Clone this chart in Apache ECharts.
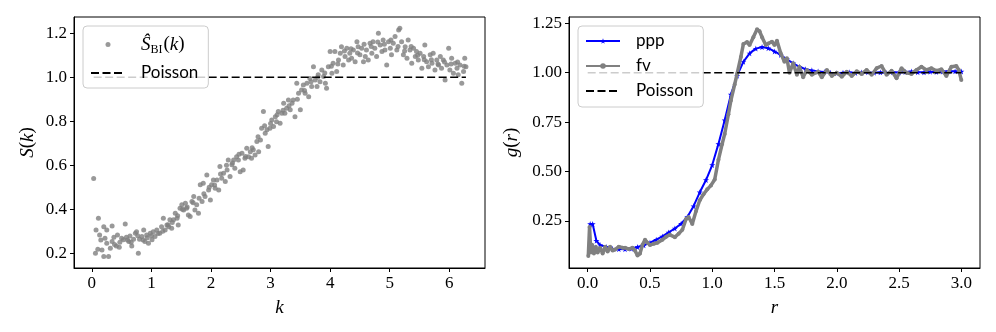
<!DOCTYPE html>
<html>
<head>
<meta charset="utf-8">
<script src="https://cdn.jsdelivr.net/npm/echarts@6/dist/echarts.min.js"></script>
<style>
html,body{margin:0;padding:0;background:#fff;}
#chart{width:996px;height:332px;}
</style>
</head>
<body>
<div id="chart"></div>
<script>
// ---------- data: left panel (structure factor) ----------
const kValues = [0.03,0.06,0.07,0.11,0.13,0.10,0.17,0.20,0.20,0.22,0.25,0.25,0.28,0.31,0.34,0.34,0.37,0.41,0.43,0.46,0.50,0.53,0.56,0.58,0.62,0.64,0.67,0.70,0.73,0.75,0.78,0.80,0.84,0.87,0.89,0.92,0.95,0.98,1.01,1.03,1.06,1.09,1.14,1.17,1.20,1.23,1.26,1.29,1.31,1.34,1.37,1.40,1.43,1.45,1.48,1.51,1.54,1.57,1.59,1.62,1.65,1.68,1.71,1.73,1.76,1.79,1.82,1.85,1.87,1.90,1.93,1.96,1.99,2.01,2.04,2.07,2.10,2.13,2.15,2.18,2.21,2.24,2.27,2.29,2.32,2.35,2.38,2.40,2.43,2.46,2.49,2.52,2.54,2.57,2.60,2.63,2.66,2.68,2.71,2.74,2.77,2.80,2.83,2.85,2.88,2.91,2.94,2.96,2.99,3.02,3.05,3.08,3.10,3.13,3.16,3.19,3.22,3.24,3.27,3.30,3.33,3.36,3.38,3.41,3.44,3.47,3.50,3.52,3.55,3.58,3.61,3.64,3.66,3.69,3.72,3.75,3.78,3.80,3.83,3.86,3.89,3.92,3.94,3.97,4.00,4.03,4.05,4.08,4.11,4.14,4.17,4.19,4.22,4.25,4.28,4.31,4.33,4.36,4.39,4.42,4.45,4.47,4.50,4.53,4.56,4.59,4.61,4.64,4.67,4.70,4.72,4.75,4.78,4.81,4.84,4.87,4.89,4.92,4.95,4.98,5.01,5.03,5.06,5.09,5.12,5.15,5.17,5.20,5.23,5.26,5.29,5.31,5.34,5.37,5.40,5.43,5.45,5.48,5.51,5.54,5.57,5.59,5.62,5.65,5.68,5.71,5.73,5.76,5.79,5.82,5.85,5.87,5.90,5.93,5.96,5.99,6.01,6.04,6.07,6.10,6.13,6.15,6.18,6.21,6.24,6.26,6.28,
  0.15,0.38,0.47,0.60,0.66,0.77,0.86,0.93,1.00,1.11,1.19,1.28,1.35,1.44,1.52,1.60,1.70,1.80,1.88,1.97,2.06,2.16,2.26,2.36,2.47,2.58,2.69,2.79,2.90,3.00,3.11,3.21,3.31,3.45,3.57,3.68,3.79,3.91,4.02,4.13,4.24,4.35,4.46,4.57,4.69,4.80,4.91,5.02,5.14,5.25,5.36,5.47,5.58,5.70,5.81,5.92,6.03,6.14,6.25];
const sValues = [0.54,0.20,0.306,0.359,0.283,0.218,0.215,0.321,0.185,0.268,0.306,0.245,0.185,0.223,0.253,0.324,0.273,0.233,0.283,0.227,0.268,0.261,0.333,0.273,0.253,0.279,0.233,0.264,0.291,0.298,0.20,0.264,0.276,0.306,0.253,0.283,0.245,0.291,0.261,0.298,0.276,0.306,0.291,0.321,0.359,0.306,0.329,0.321,0.352,0.314,0.352,0.382,0.359,0.329,0.405,0.42,0.397,0.427,0.405,0.374,0.367,0.435,0.458,0.397,0.42,0.382,0.511,0.435,0.518,0.458,0.556,0.488,0.442,0.511,0.533,0.495,0.533,0.488,0.594,0.541,0.564,0.526,0.579,0.624,0.549,0.602,0.624,0.586,0.639,0.624,0.571,0.655,0.579,0.632,0.677,0.639,0.662,0.632,0.67,0.647,0.708,0.662,0.715,0.768,0.844,0.745,0.761,0.685,0.768,0.806,0.776,0.821,0.798,0.844,0.791,0.836,0.882,0.836,0.859,0.897,0.852,0.882,0.897,0.821,0.973,0.927,0.852,0.942,0.965,0.927,0.973,0.912,0.995,0.958,1.048,0.988,0.958,1.011,0.98,1.033,1.003,0.973,0.95,1.048,1.117,1.018,1.064,1.117,1.026,1.079,1.109,1.139,1.056,1.094,1.132,1.079,1.109,1.086,1.124,1.071,1.162,1.139,1.102,1.132,1.071,1.094,1.124,1.079,1.155,1.109,1.162,1.132,1.094,1.2,1.147,1.117,1.17,1.124,1.056,1.162,1.132,1.102,1.155,1.185,1.124,1.215,1.223,1.162,1.102,1.139,1.086,1.17,1.124,1.064,1.132,1.094,1.117,1.079,1.109,1.041,1.094,1.147,1.071,1.048,1.102,1.064,1.109,1.033,1.079,1.056,1.094,1.041,1.079,0.988,1.056,1.132,1.033,1.086,1.018,1.064,1.041,1.011,1.056,0.973,1.026,1.086,1.048,
  0.26,0.24,0.25,0.26,0.25,0.28,0.26,0.27,0.28,0.29,0.30,0.33,0.34,0.37,0.40,0.41,0.43,0.45,0.47,0.50,0.51,0.56,0.60,0.61,0.65,0.64,0.68,0.73,0.78,0.79,0.83,0.85,0.87,0.90,0.94,0.98,1.00,1.02,1.05,1.06,1.12,1.13,1.11,1.15,1.14,1.16,1.15,1.17,1.14,1.12,1.14,1.10,1.08,1.08,1.06,1.07,1.06,1.07,1.05];
const poissonK = [0.03, 6.28];
const poissonS = [1.0, 1.0];

// ---------- data: right panel (pair correlation) ----------
const rPpp = [0.02,0.04,0.07,0.10,0.15,0.20,0.25,0.30,0.35,0.40,0.45,0.50,0.55,0.60,0.65,0.70,0.75,0.80,0.85,0.90,0.95,1.00,1.05,1.10,1.15,1.20,1.25,1.30,1.35,1.40,1.45,1.50,1.55,1.60,1.65,1.70,1.75,1.80,1.85,1.90,1.95,2.00,2.05,2.10,2.15,2.20,2.25,2.30,2.35,2.40,2.45,2.50,2.55,2.60,2.65,2.70,2.75,2.80,2.85,2.90,2.95,3.00];
const gPpp = [0.235,0.235,0.150,0.128,0.118,0.110,0.108,0.107,0.110,0.118,0.127,0.140,0.155,0.172,0.192,0.212,0.236,0.270,0.325,0.395,0.457,0.533,0.640,0.760,0.890,0.985,1.055,1.098,1.122,1.130,1.124,1.108,1.090,1.068,1.048,1.030,1.018,1.012,1.006,1.004,1.000,0.998,1.000,1.002,0.999,1.001,1.003,1.000,1.002,0.999,1.003,1.001,1.004,1.006,1.003,1.002,1.005,1.004,1.006,1.008,1.007,1.006];
const rFv = [0.005,0.015,0.025,0.035,0.05,0.065,0.08,0.10,0.12,0.14,0.16,0.18,0.20,0.22,0.25,0.28,0.30,0.33,0.36,0.38,0.40,0.42,0.44,0.46,0.48,0.50,0.53,0.56,0.60,0.63,0.66,0.70,0.73,0.76,0.79,0.81,0.84,0.87,0.90,0.93,0.96,0.99,1.02,1.05,1.08,1.10,1.13,1.15,1.18,1.20,1.23,1.25,1.28,1.30,1.33,1.36,1.38,1.40,1.43,1.45,1.48,1.50,1.52,1.55,1.58,1.60,1.62,1.65,1.68,1.70,1.73,1.76,1.80,1.85,1.88,1.92,1.96,2.00,2.04,2.08,2.12,2.16,2.20,2.24,2.28,2.32,2.36,2.40,2.44,2.48,2.52,2.56,2.60,2.64,2.68,2.72,2.76,2.80,2.84,2.88,2.92,2.96,2.98,3.00];
const gFv = [0.073,0.22,0.09,0.13,0.085,0.12,0.09,0.115,0.085,0.12,0.095,0.12,0.100,0.105,0.120,0.115,0.115,0.108,0.115,0.100,0.075,0.085,0.130,0.155,0.140,0.128,0.135,0.140,0.155,0.170,0.180,0.168,0.185,0.205,0.260,0.270,0.235,0.300,0.355,0.385,0.410,0.430,0.460,0.560,0.640,0.690,0.790,0.860,0.940,0.995,1.080,1.145,1.155,1.140,1.180,1.220,1.210,1.180,1.140,1.148,1.157,1.140,1.162,1.098,1.056,1.073,1.000,1.048,0.990,1.030,0.977,1.014,0.990,1.005,0.977,1.014,0.984,1.000,0.980,1.005,0.984,1.007,0.994,1.014,0.990,1.023,1.034,0.990,1.010,0.972,1.023,1.000,0.994,1.014,1.030,1.014,1.023,1.010,1.017,0.984,1.030,1.034,1.014,0.963];
const poissonR = [0.0, 3.0];
const poissonG = [1.0, 1.0];

// ---------- ticks ----------
const leftXTicks = [0,1,2,3,4,5,6];
const leftYTicks = [0.2,0.4,0.6,0.8,1.0,1.2];
const rightXTicks = [0.0,0.5,1.0,1.5,2.0,2.5,3.0];
const rightYTicks = [0.25,0.50,0.75,1.00,1.25];

const zip = (a, b) => a.map((v, i) => [v, b[i]]);
const SERIF = 'Liberation Serif';
const SANS = 'Lato';
const STAR = 'path://M50,0 L61,35 L98,35 L68,57 L79,91 L50,70 L21,91 L32,57 L2,35 L39,35 Z';

function xAxis(idx, min, max, ticks, dec, name) {
  return {
    type: 'value', gridIndex: idx, min: min, max: max,
    name: name, nameLocation: 'middle', nameGap: 30,
    nameTextStyle: {fontFamily: SERIF, fontStyle: 'italic', fontSize: 19, color: '#000'},
    axisLine: {show: true, onZero: false, lineStyle: {color: '#000', width: 1}},
    axisTick: {show: true, length: 4, customValues: ticks, lineStyle: {color: '#000', width: 1}},
    axisLabel: {customValues: ticks, margin: 7, fontFamily: SERIF, fontSize: 17, color: '#000',
                formatter: v => Number(v).toFixed(dec)},
    splitLine: {show: false}
  };
}
function yAxis(idx, min, max, ticks, dec, nameRich, gap) {
  return {
    type: 'value', gridIndex: idx, min: min, max: max,
    name: nameRich, nameLocation: 'middle', nameGap: gap,
    nameTextStyle: {color: '#000', rich: {
      i: {fontFamily: SERIF, fontStyle: 'italic', fontSize: 19, color: '#000'},
      n: {fontFamily: SERIF, fontSize: 19, color: '#000'}
    }},
    axisLine: {show: true, onZero: false, lineStyle: {color: '#000', width: 1}},
    axisTick: {show: true, length: 4, customValues: ticks, lineStyle: {color: '#000', width: 1}},
    axisLabel: {customValues: ticks, margin: 7, fontFamily: SERIF, fontSize: 17, color: '#000',
                formatter: v => Number(v).toFixed(dec)},
    splitLine: {show: false}
  };
}

const legendBase = {
  orient: 'vertical', itemWidth: 34, itemHeight: 7, itemGap: 7,
  backgroundColor: 'rgba(255,255,255,0.8)', borderColor: '#cccccc', borderWidth: 1, borderRadius: 4,
  selectedMode: false, z: 10,
  textStyle: {fontFamily: SANS, fontSize: 17, color: '#000', lineHeight: 18, padding: [0, 0, 0, 11],
    rich: {
      i: {fontFamily: SERIF, fontStyle: 'italic', fontSize: 19, lineHeight: 19, verticalAlign: 'top'},
      n: {fontFamily: SERIF, fontSize: 19, lineHeight: 19, verticalAlign: 'top'},
      sub: {fontFamily: SERIF, fontSize: 12, lineHeight: 12, verticalAlign: 'top', padding: [9, 1, 0, 0]}
    }}
};

const chart = echarts.init(document.getElementById('chart'), null, {renderer: 'canvas'});
chart.setOption({
  animation: false,
  backgroundColor: '#fff',
  grid: [
    {left: 74, top: 17, width: 411, height: 251, show: true, borderColor: '#000', borderWidth: 1},
    {left: 569, top: 17, width: 411, height: 251, show: true, borderColor: '#000', borderWidth: 1}
  ],
  xAxis: [
    xAxis(0, -0.30, 6.60, leftXTicks, 0, 'k'),
    xAxis(1, -0.15, 3.15, rightXTicks, 1, 'r')
  ],
  yAxis: [
    yAxis(0, 0.133, 1.274, leftYTicks, 1, '{i|S}{n|(}{i|k}{n|)}', 37),
    yAxis(1, 0.012, 1.282, rightYTicks, 2, '{i|g}{n|(}{i|r}{n|)}', 48)
  ],
  legend: [
    Object.assign({}, legendBase, {
      left: 83, top: 26, padding: [9, 10, 6, 7], itemHeight: 5, itemGap: 8,
      data: ['SBI', 'Poisson'],
      formatter: name => name === 'SBI' ? '{i|Ŝ}{sub|BI}{n|(}{i|k}{n|)}' : name
    }),
    Object.assign({}, legendBase, {
      left: 578, top: 26, padding: [6, 10, 7, 7],
      data: ['ppp', 'fv', 'Poisson']
    })
  ],
  series: [
    {name: 'SBI', type: 'scatter', xAxisIndex: 0, yAxisIndex: 0, data: zip(kValues, sValues),
     symbol: 'circle', symbolSize: 5, itemStyle: {color: '#808080'}, z: 2},
    {name: 'Poisson', type: 'line', xAxisIndex: 0, yAxisIndex: 0, data: zip(poissonK, poissonS),
     symbol: 'none', itemStyle: {color: 'rgba(0,0,0,0)', borderWidth: 0},
     lineStyle: {color: '#000', width: 1.6, type: [8, 3.5]}, z: 3},
    {name: 'ppp', type: 'line', xAxisIndex: 1, yAxisIndex: 1, data: zip(rPpp, gPpp),
     symbol: STAR, symbolSize: 6, showSymbol: true, itemStyle: {color: '#0000ff'},
     lineStyle: {color: '#0000ff', width: 2}, z: 2},
    {name: 'fv', type: 'line', xAxisIndex: 1, yAxisIndex: 1, data: zip(rFv, gFv),
     symbol: 'circle', symbolSize: 4, showSymbol: true, itemStyle: {color: '#808080'},
     lineStyle: {color: '#808080', width: 3.5}, z: 3},
    {name: 'Poisson', type: 'line', xAxisIndex: 1, yAxisIndex: 1, data: zip(poissonR, poissonG),
     symbol: 'none', itemStyle: {color: 'rgba(0,0,0,0)', borderWidth: 0},
     lineStyle: {color: '#000', width: 1.6, type: [8, 3.5]}, z: 4}
  ]
});
</script>
</body>
</html>
